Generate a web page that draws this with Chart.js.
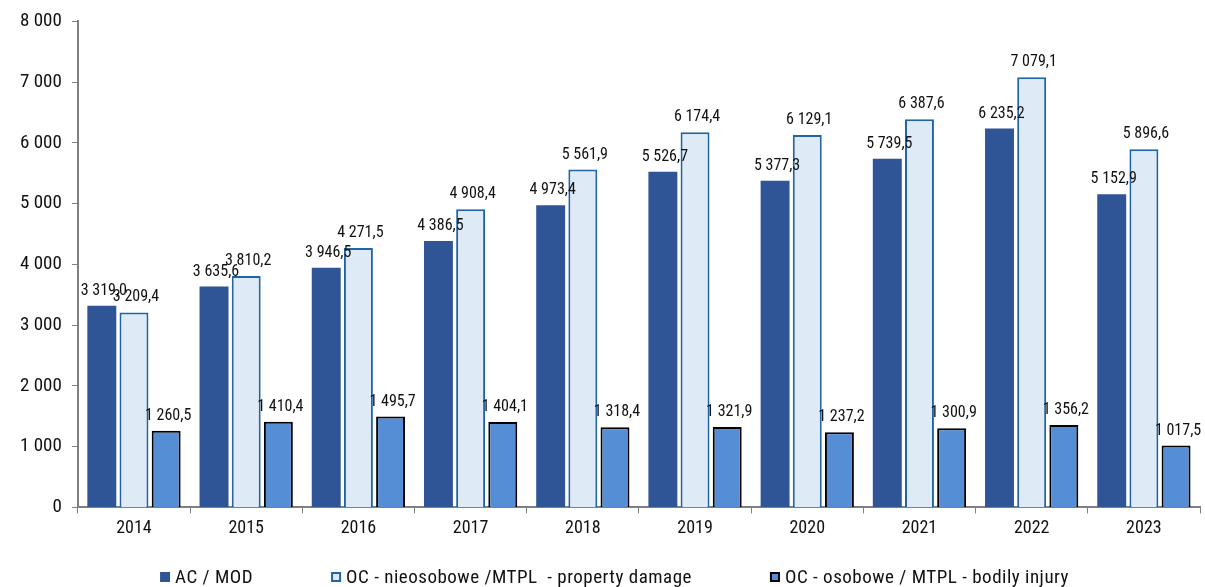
<!DOCTYPE html>
<html>
<head>
<meta charset="utf-8">
<script src="https://cdn.jsdelivr.net/npm/chart.js@4"></script>
<style>
    html, body { margin: 0; padding: 0; background: #fff; }
    #chart-container { width: 1205px; height: 587px; }
</style>
</head>
<body>
<div id="chart-container"><canvas id="chart"></canvas></div>
<script>
const years = ['2014', '2015', '2016', '2017', '2018', '2019', '2020', '2021', '2022', '2023'];
const acMod = [3319.0, 3635.6, 3946.5, 4386.5, 4973.4, 5526.7, 5377.3, 5739.5, 6235.2, 5152.9];
const mtplProperty = [3209.4, 3810.2, 4271.5, 4908.4, 5561.9, 6174.4, 6129.1, 6387.6, 7079.1, 5896.6];
const mtplBodily = [1260.5, 1410.4, 1495.7, 1404.1, 1318.4, 1321.9, 1237.2, 1300.9, 1356.2, 1017.5];
const yTicks = [0, 1000, 2000, 3000, 4000, 5000, 6000, 7000, 8000];

const FONT = "'Liberation Sans Narrow', 'Roboto Condensed', 'DejaVu Sans Condensed', sans-serif";

// 3319 -> "3 319,0"
function fmt(v, dec) {
    const parts = v.toFixed(dec).split('.');
    const int = parts[0].replace(/\B(?=(\d{3})+(?!\d))/g, ' ');
    return parts[1] ? int + ',' + parts[1] : int;
}

const valueLabels = {
    id: 'valueLabels',
    afterDatasetsDraw(chart) {
        const ctx = chart.ctx;
        ctx.save();
        ctx.font = '16px ' + FONT;
        ctx.fillStyle = '#111';
        ctx.textAlign = 'center';
        ctx.textBaseline = 'bottom';
        chart.data.datasets.forEach((ds, i) => {
            chart.getDatasetMeta(i).data.forEach((bar, j) => {
                ctx.fillText(fmt(ds.data[j], 1), bar.x + 2, bar.y - 7);
            });
        });
        ctx.restore();
    }
};

// legend drawn by hand: the built-in one adds its padding vertically too
const bottomLegend = {
    id: 'bottomLegend',
    afterDraw(chart) {
        const ctx = chart.ctx;
        const box = 10, gapBox = 5, gapItem = 78;
        ctx.save();
        ctx.font = '19px ' + FONT;
        ctx.letterSpacing = '0.5px';
        const items = chart.data.datasets.map(ds => ({ ds, w: box + gapBox + ctx.measureText(ds.label).width }));
        const total = items.reduce((s, it) => s + it.w, 0) + gapItem * (items.length - 1);
        let x = (chart.width - total) / 2 + 12;
        const y = chart.height - 10;
        ctx.textBaseline = 'middle';
        items.forEach(it => {
            const ds = it.ds;
            ctx.fillStyle = ds.backgroundColor;
            ctx.fillRect(x, y - box / 2, box, box);
            if (ds.borderWidth) {
                ctx.strokeStyle = ds.borderColor;
                ctx.lineWidth = 2;
                ctx.strokeRect(x + 1, y - box / 2 + 1, box - 2, box - 2);
            }
            ctx.fillStyle = '#111';
            ctx.fillText(ds.label, x + box + gapBox, y + 1);
            x += it.w + gapItem;
        });
        ctx.restore();
    }
};

new Chart(document.getElementById('chart').getContext('2d'), {
    type: 'bar',
    data: {
        labels: years,
        datasets: [{
            label: 'AC / MOD',
            data: acMod,
            backgroundColor: '#2F5597',
            borderColor: '#2F5597',
            borderWidth: 0
        }, {
            label: 'OC - nieosobowe /MTPL  - property damage',
            data: mtplProperty,
            backgroundColor: '#DEEAF6',
            borderColor: '#1F64A8',
            borderWidth: 2
        }, {
            label: 'OC - osobowe / MTPL - bodily injury',
            data: mtplBodily,
            backgroundColor: '#558ED5',
            borderColor: '#000000',
            borderWidth: 2
        }]
    },
    options: {
        responsive: true,
        maintainAspectRatio: false,
        animation: false,
        categoryPercentage: 0.86,
        barPercentage: 0.9,
        layout: { padding: { top: 12, right: 5, left: 10, bottom: 44 } },
        scales: {
            y: {
                min: 0,
                max: 8000,
                afterBuildTicks: axis => { axis.ticks = yTicks.map(v => ({ value: v })); },
                ticks: {
                    color: '#111',
                    font: { family: FONT, size: 19 },
                    padding: 10,
                    callback: v => fmt(v, 0)
                },
                grid: { display: true, drawOnChartArea: false, tickLength: 6, color: '#808080' },
                border: { color: '#808080', width: 2 }
            },
            x: {
                ticks: {
                    color: '#111',
                    font: { family: FONT, size: 18 },
                    padding: 4
                },
                grid: { display: true, drawOnChartArea: false, tickLength: 6, color: '#808080', offset: true },
                border: { color: '#808080', width: 2 }
            }
        },
        plugins: {
            legend: { display: false },
            tooltip: { enabled: false }
        }
    },
    plugins: [valueLabels, bottomLegend]
});
</script>
</body>
</html>
